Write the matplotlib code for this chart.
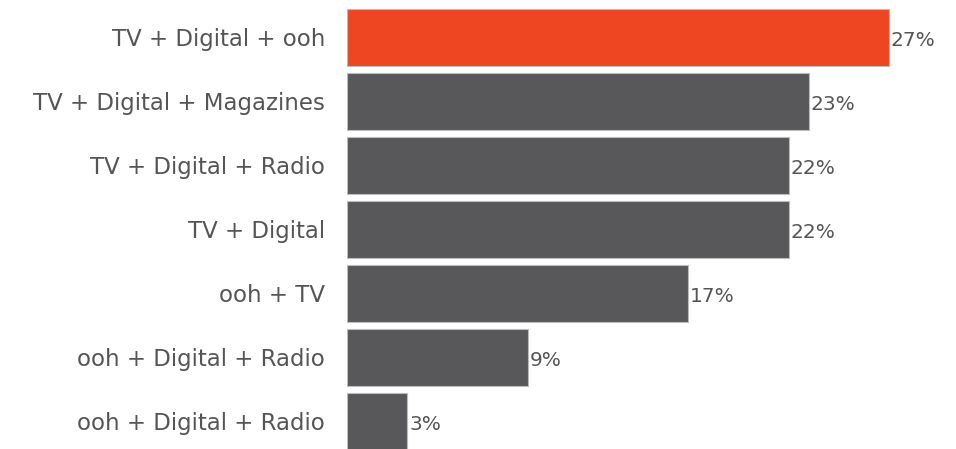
import matplotlib.pyplot as plt

categories = ["TV + Digital + ooh", "TV + Digital + Magazines", "TV + Digital + Radio",
              "TV + Digital", "ooh + TV", "ooh + Digital + Radio", "ooh + Digital + Radio"]
values = [27, 23, 22, 22, 17, 9, 3]

plt.rcParams['font.family'] = ['DejaVu Sans']

fig = plt.figure(figsize=(9.56, 4.49), dpi=100)
ax = fig.add_axes([347 / 956, 0, 609 / 956, 1])

colors = ["#EE4523"] + ["#58585A"] * (len(values) - 1)
ypos = list(range(len(values)))
ax.barh(ypos, values, height=0.89, color=colors, edgecolor="#BBBBBB", linewidth=0.8)

for y, v in zip(ypos, values):
    ax.text(v + 0.1, y + 0.05, f"{v}%", va="center", ha="left", fontsize=14.5, color="#555555")

for y, c in zip(ypos, categories):
    ax.text(-1.1, y + 0.03, c, va="center", ha="right", fontsize=16.5, color="#555555")

ax.set_xlim(0, 30.34)
ax.set_ylim(6.43, -0.586)
ax.axis("off")

fig.savefig("out.png", dpi=100)
